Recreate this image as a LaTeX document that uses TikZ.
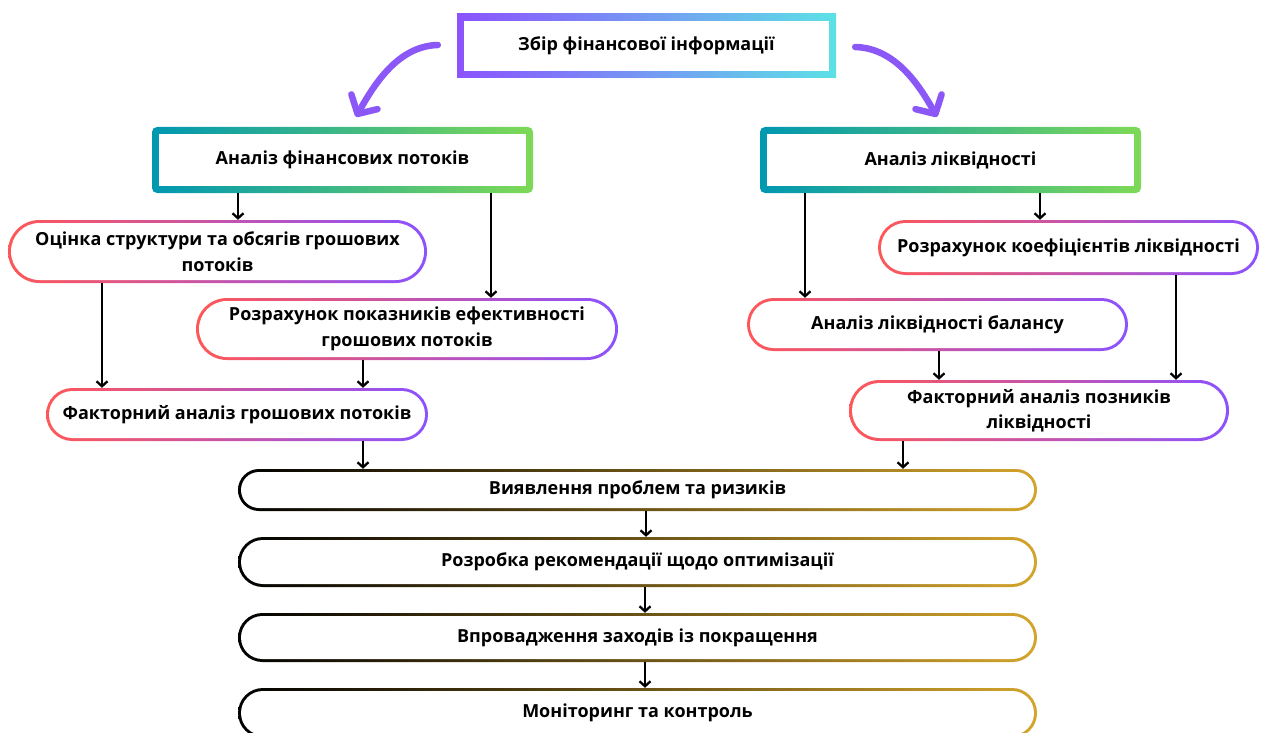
\documentclass[tikz,border=0pt]{standalone}
\usepackage{fontspec}
\setmainfont{Open Sans}
\usetikzlibrary{arrows.meta,calc}

\definecolor{violetA}{HTML}{8C52FF}
\definecolor{cyanA}{HTML}{5CE1E6}
\definecolor{tealA}{HTML}{0097B2}
\definecolor{greenA}{HTML}{7ED957}
\definecolor{redA}{HTML}{FF5757}
\definecolor{goldA}{HTML}{D4A52C}
\definecolor{curveViolet}{HTML}{8C57F7}

\tikzset{
  % gradient border for rectangular frames: shaded node, white inset
  ringframe/.style n args={3}{
    path picture={
      \shade[left color=#1,right color=#2]
        (path picture bounding box.south west) rectangle (path picture bounding box.north east);
      \fill[white,sharp corners]
        ([shift={(#3,#3)}]path picture bounding box.south west) rectangle
        ([shift={(-#3,-#3)}]path picture bounding box.north east);
    }},
  % gradient border for pill shaped boxes
  ringpill/.style n args={3}{
    path picture={
      \shade[left color=#1,right color=#2]
        (path picture bounding box.south west) rectangle (path picture bounding box.north east);
      \fill[white] let \p1=(path picture bounding box.south west),
                       \p2=(path picture bounding box.north east),
                       \n1={(\y2-\y1)/2-#3-0.02pt} in
        [rounded corners=\n1] (\x1+#3,\y1+#3) rectangle (\x2-#3,\y2-#3);
    }},
  label/.style={align=center, inner sep=0pt, text=black,
    font=\bfseries\fontsize{18}{25.5}\selectfont},
  headbox/.style 2 args={label, sharp corners, ringframe={violetA}{cyanA}{7pt},
    minimum width=#1, minimum height=#2},
  groupbox/.style 2 args={label, rounded corners=5pt, ringframe={tealA}{greenA}{7pt},
    minimum width=#1, minimum height=#2},
  pillbox/.style 2 args={label, rounded corners=#2/2, ringpill={redA}{violetA}{3pt},
    minimum width=#1, minimum height=#2},
  stagebox/.style 2 args={label, rounded corners=#2/2, ringpill={black}{goldA}{3pt},
    minimum width=#1, minimum height=#2},
  arr/.style={draw=black, line width=2.3pt, -{Straight Barb[length=5pt,width=11pt]}},
  bigarr/.style={draw=curveViolet, line width=6.5pt, line cap=round,
    -{Straight Barb[length=14pt,width=30pt,line cap=round,line join=round]}},
}

\begin{document}
\begin{tikzpicture}[x=1pt,y=-1pt]
\useasboundingbox (0,0) rectangle (1263,733);
\clip (0,0) rectangle (1263,733);

% header
\node[headbox={379}{64}] (head) at (646.5,46) {Збір фінансової інформації};

% two analysis branches
\node[groupbox={381}{66}] (flows) at (342.5,160) {Аналіз фінансових потоків};
\node[groupbox={381}{66}] (liq) at (950.5,160) {Аналіз ліквідності};

% cash flow branch
\node[pillbox={419}{63}] (struct) at (217.5,251.5) {Оцінка структури та обсягів грошових\\потоків};
\node[pillbox={422}{62}] (effic) at (407,329) {Розрахунок показників ефективності\\грошових потоків};
\node[pillbox={382}{53}] (factL) at (237,414.5) {Факторний аналіз грошових потоків};

% liquidity branch
\node[pillbox={381}{55}] (coef) at (1068.5,247.5) {Розрахунок коефіцієнтів ліквідності};
\node[pillbox={381}{53}] (bal) at (937.5,324.5) {Аналіз ліквідності балансу};
\node[pillbox={380}{61}] (factR) at (1039,410.5) {Факторний аналіз позників\\ліквідності};

% common stages
\node[stagebox={799}{42}] (s1) at (637.5,490) {Виявлення проблем та ризиків};
\node[stagebox={799}{50}] (s2) at (637.5,562) {Розробка рекомендації щодо оптимізації};
\node[stagebox={799}{49}] (s3) at (637.5,637.5) {Впровадження заходів із покращення};
\node[stagebox={799}{50}] (s4) at (637.5,713) {Моніторинг та контроль};

% curved arrows from the header
\coordinate (hl) at ([xshift=-19pt,yshift=1pt]head.west);
\coordinate (hr) at ([xshift=19pt,yshift=-1pt]head.east);
\coordinate (tl) at ([xshift=13.5pt,yshift=10pt]flows.north);
\coordinate (tr) at ([xshift=-13.5pt,yshift=10pt]liq.north);
\draw[bigarr] (hl) .. controls +(-40,1) and +(18,-32) .. (tl);
\draw[bigarr] (hr) .. controls +(40,1) and +(-18,-32) .. (tr);

% cash flow branch connectors
\draw[arr] ([xshift=-104.5pt]flows.south) -- ([xshift=-104.5pt]flows.south |- struct.north);
\draw[arr] ([xshift=148.5pt]flows.south) -- ([xshift=148.5pt]flows.south |- effic.north);
\draw[arr] ([xshift=-115.5pt]struct.south) -- ([xshift=-115.5pt]struct.south |- factL.north);
\draw[arr] ([xshift=-44pt]effic.south) -- ([xshift=-44pt]effic.south |- factL.north);
\draw[arr] ([xshift=126pt]factL.south) -- ([xshift=126pt]factL.south |- s1.north);

% liquidity branch connectors
\draw[arr] ([xshift=-145.5pt]liq.south) -- ([xshift=-145.5pt]liq.south |- bal.north);
\draw[arr] ([xshift=89.5pt]liq.south) -- ([xshift=89.5pt]liq.south |- coef.north);
\draw[arr] ([xshift=107.5pt]coef.south) -- ([xshift=107.5pt]coef.south |- factR.north);
\draw[arr] ([xshift=1.5pt]bal.south) -- ([xshift=1.5pt]bal.south |- factR.north);
\draw[arr] ([xshift=-136pt]factR.south) -- ([xshift=-136pt]factR.south |- s1.north);

% stage sequence
\draw[arr] ([xshift=8.5pt]s1.south) -- ([xshift=8.5pt]s1.south |- s2.north);
\draw[arr] ([xshift=7.5pt]s2.south) -- ([xshift=7.5pt]s2.south |- s3.north);
\draw[arr] ([xshift=7.5pt]s3.south) -- ([xshift=7.5pt]s3.south |- s4.north);
\end{tikzpicture}
\end{document}
